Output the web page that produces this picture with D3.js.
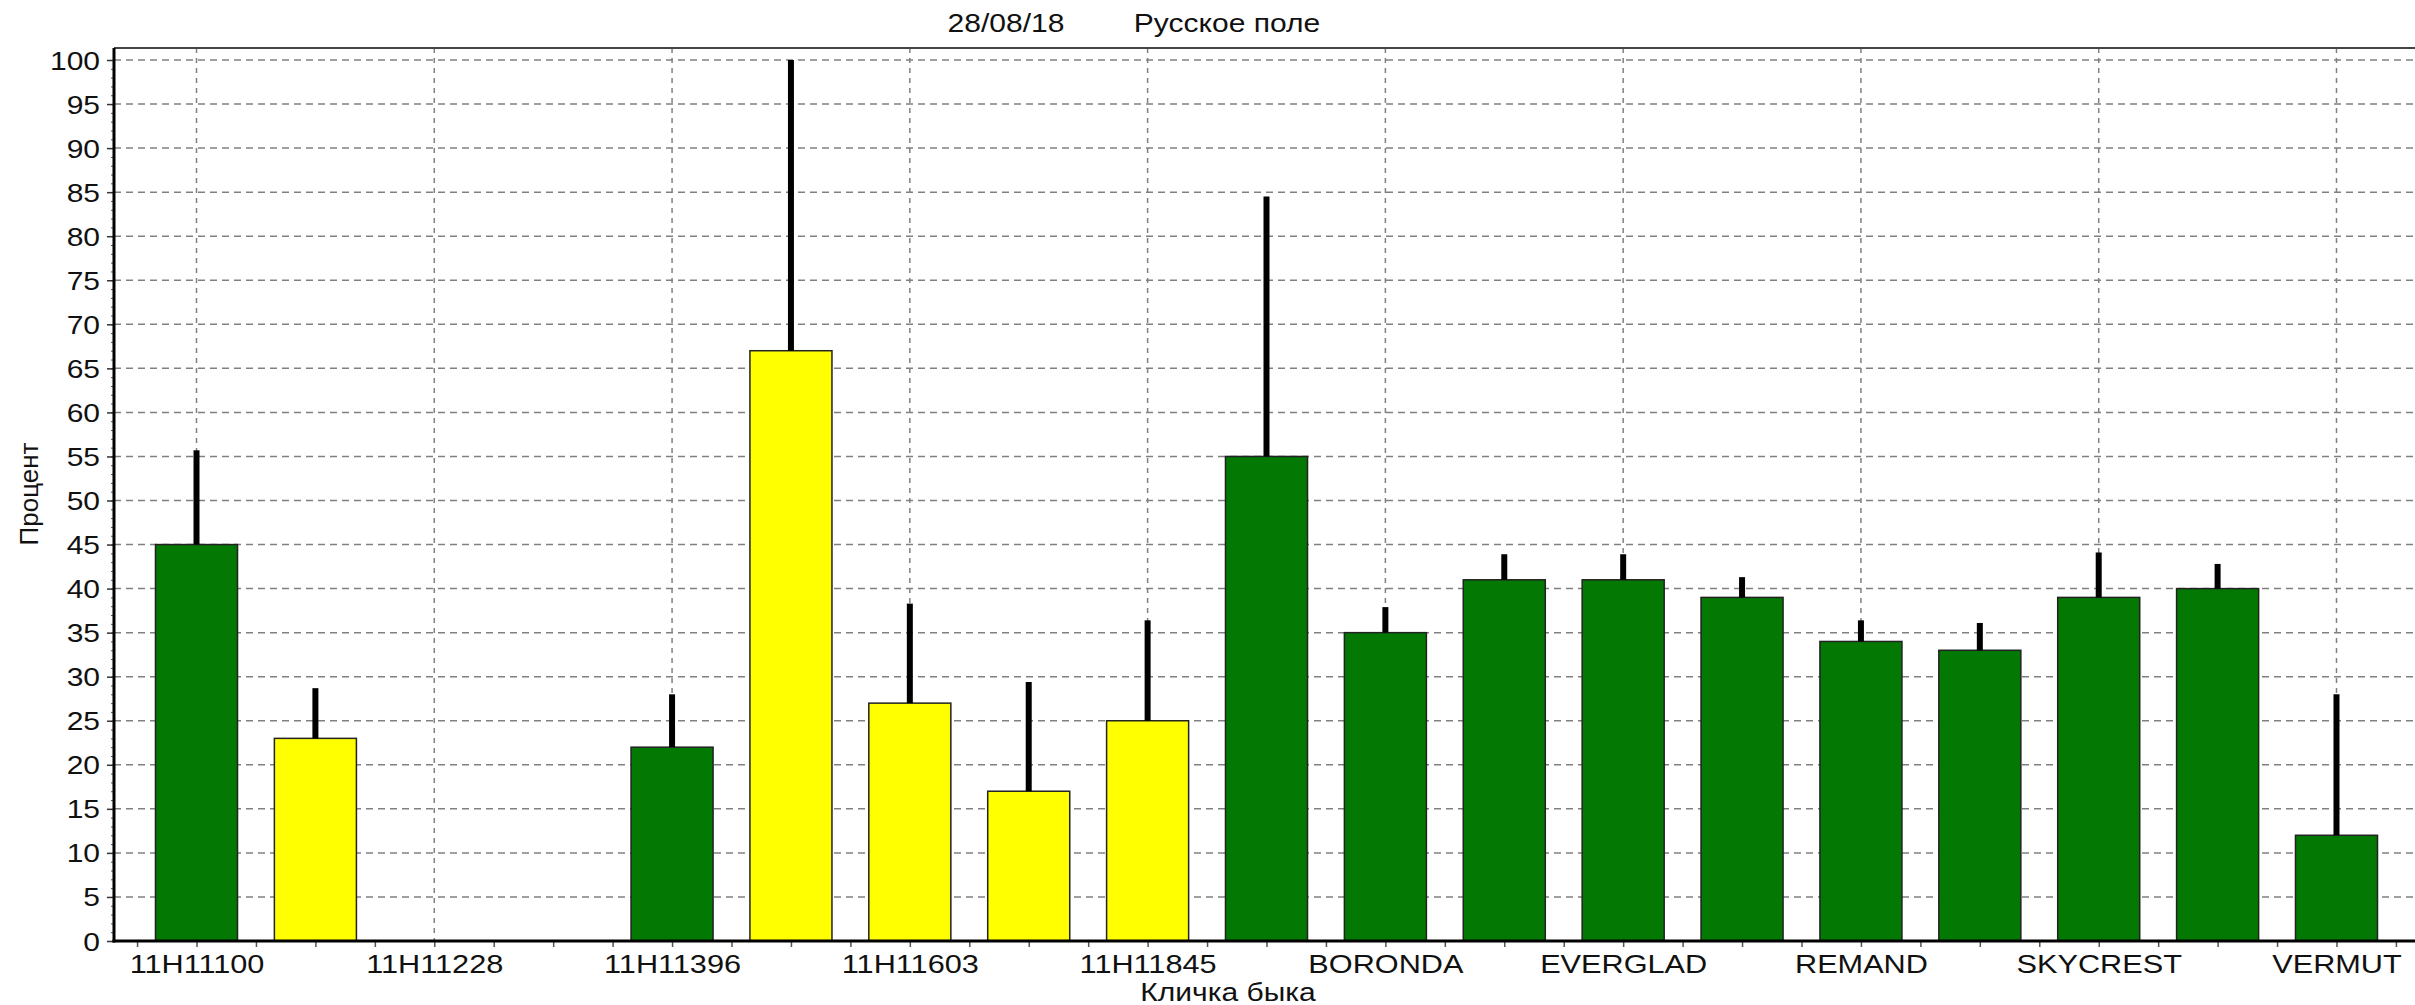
<!DOCTYPE html>
<html><head><meta charset="utf-8">
<script src="https://cdn.jsdelivr.net/npm/d3@7/dist/d3.min.js"></script>
<style>
body{margin:0;background:#fff;}
svg{display:block;}
text{font-family:"Liberation Sans",Arial,sans-serif;fill:#111;}
</style>
</head><body>
<script>
// ---- data ----
const tickLabels = ["11H11100","","11H11228","","11H11396","","11H11603","","11H11845","","BORONDA","","EVERGLAD","","REMAND","","SKYCREST","","VERMUT"];
const values     = [45, 23, null, null, 22, 67, 27, 17, 25, 55, 35, 41, 41, 39, 34, 33, 39, 40, 12];
const errUpper   = [55.7, 28.7, null, null, 28, 100, 38.3, 29.4, 36.4, 84.5, 37.9, 43.9, 43.9, 41.3, 36.4, 36.1, 44.1, 42.8, 28];
const colorGroup = ["g","y",null,null,"g","y","y","y","y","g","g","g","g","g","g","g","g","g","g"];
const yTickValues = [0,5,10,15,20,25,30,35,40,45,50,55,60,65,70,75,80,85,90,95,100];
const titleDate = "28/08/18";
const titleFarm = "Русское поле";
const xTitle = "Кличка быка";
const yTitle = "Процент";

// ---- layout ----
const W = 2415, H = 1005;
const mLeft = 114, mRight = 2419, mTop = 48, mBottom = 941;
const SX = 1.2; // horizontal text stretch
const colors = {g: "#037803", y: "#ffff00"};

const svg = d3.select("body").append("svg").attr("width", W).attr("height", H);

const idx = tickLabels.map((d, i) => i);
const x = d3.scaleBand().domain(idx).range([mLeft, mRight]).paddingInner(0.31).paddingOuter(0.349);
const bw = x.bandwidth();
const cx = i => x(i) + bw / 2;
const xc = d3.scaleLinear().domain([0, idx.length - 1]).range([cx(0), cx(idx.length - 1)]);
const y = d3.scaleLinear().domain([0, 100]).range([mBottom, 60]);

// grid horizontal
svg.append("g").selectAll("line").data(yTickValues.filter(v => v > 0)).join("line")
  .attr("x1", mLeft).attr("x2", W).attr("y1", d => y(d)).attr("y2", d => y(d))
  .attr("stroke", "#808080").attr("stroke-width", 1.5).attr("stroke-dasharray", "7,5");
// grid vertical (labelled categories)
svg.append("g").selectAll("line").data(idx.filter(i => tickLabels[i] !== "")).join("line")
  .attr("x1", d => xc(d)).attr("x2", d => xc(d)).attr("y1", mTop).attr("y2", mBottom)
  .attr("stroke", "#808080").attr("stroke-width", 1.5).attr("stroke-dasharray", "5,5");

// top frame
svg.append("line").attr("x1", mLeft).attr("x2", W).attr("y1", mTop).attr("y2", mTop)
  .attr("stroke", "#444").attr("stroke-width", 2);

// bars
const barData = idx.filter(i => values[i] != null);
svg.append("g").selectAll("rect").data(barData).join("rect")
  .attr("x", i => x(i)).attr("width", bw)
  .attr("y", i => y(values[i])).attr("height", i => y(0) - y(values[i]))
  .attr("fill", i => colors[colorGroup[i]])
  .attr("stroke", "#222").attr("stroke-width", 1.5);
// error bars
svg.append("g").selectAll("line").data(barData).join("line")
  .attr("x1", i => cx(i)).attr("x2", i => cx(i))
  .attr("y1", i => y(values[i])).attr("y2", i => y(errUpper[i]))
  .attr("stroke", "#000").attr("stroke-width", 6);

// y axis minor ticks
const yMinor = svg.append("g").attr("transform", `translate(${mLeft},0)`)
  .call(d3.axisLeft(y).tickValues(d3.range(0, 101, 1)).tickSize(3).tickFormat(""));
yMinor.select(".domain").remove();
yMinor.selectAll("line").attr("stroke", "#555");
// y axis major
const yAx = svg.append("g").attr("transform", `translate(${mLeft},0)`)
  .call(d3.axisLeft(y).tickValues(yTickValues).tickSize(7).tickPadding(6));
yAx.select(".domain").remove();
yAx.selectAll("line").attr("stroke", "#333").attr("stroke-width", 1.5);
yAx.selectAll("text").attr("font-size", 25).attr("fill", "#111")
  .attr("transform", `scale(${SX},1)`).attr("x", -14 / SX).attr("dy", "0.36em")
  .style("font-family", '"Liberation Sans",Arial,sans-serif');

// x axis ticks (every half category)
const xTickVals = d3.range(-0.5, idx.length, 0.5);
const xAx = svg.append("g").attr("transform", `translate(0,${mBottom})`)
  .call(d3.axisBottom(xc).tickValues(xTickVals).tickSize(6).tickFormat(""));
xAx.select(".domain").remove();
xAx.selectAll("line").attr("stroke", "#555").attr("stroke-width", 1.5);
xAx.selectAll(".tick").each(function(d){
  const g = d3.select(this);
  g.selectAll("text").remove();
  if (Number.isInteger(d) && tickLabels[d]) {
    g.append("text").attr("transform", `translate(0,32) scale(1.18,1)`)
      .attr("text-anchor", "middle").attr("font-size", 26).attr("fill", "#111")
      .style("font-family", '"Liberation Sans",Arial,sans-serif')
      .text(tickLabels[d]);
  }
});

// axis lines
svg.append("line").attr("x1", mLeft).attr("x2", mLeft).attr("y1", mTop).attr("y2", mBottom + 1.5)
  .attr("stroke", "#000").attr("stroke-width", 3);
svg.append("line").attr("x1", mLeft - 1.5).attr("x2", W).attr("y1", mBottom).attr("y2", mBottom)
  .attr("stroke", "#000").attr("stroke-width", 3);

// titles
function stretchedText(px, py, str, size, rot) {
  svg.append("text")
    .attr("transform", `translate(${px},${py})` + (rot ? ` rotate(${rot})` : ` scale(${SX},1)`))
    .attr("text-anchor", "middle").attr("font-size", size).attr("fill", "#111").text(str);
}
stretchedText(1006, 32, titleDate, 25);
stretchedText(1227, 32, titleFarm, 25);
stretchedText(1228, 1001, xTitle, 25);
stretchedText(38, 494, yTitle, 26, -90);
</script>
</body></html>
